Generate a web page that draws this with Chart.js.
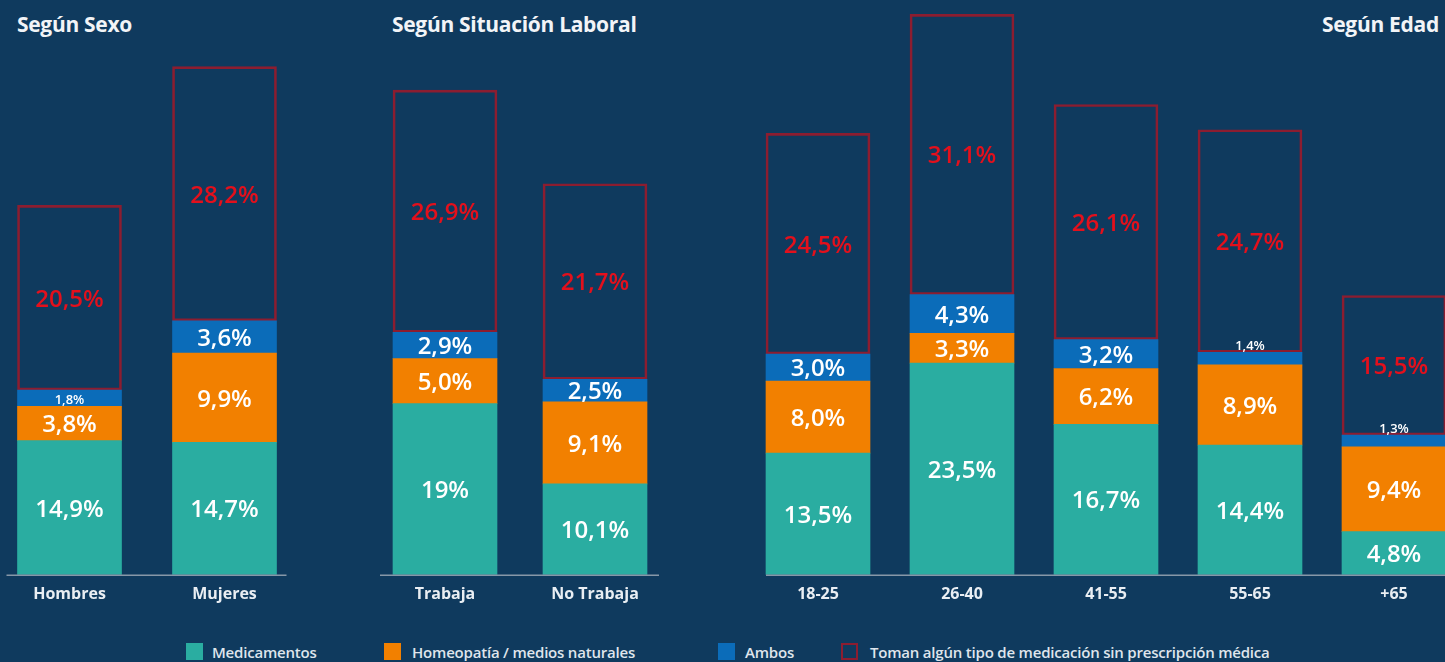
<!DOCTYPE html>
<html>
<head>
<meta charset="utf-8">
<script src="https://cdn.jsdelivr.net/npm/chart.js@4.4.0/dist/chart.umd.min.js"></script>
<style>
	html, body { margin: 0; padding: 0; }
	body { width: 1445px; height: 662px; background: #0f3a5e; position: relative; overflow: hidden; font-family: 'Open Sans', sans-serif; }
	.title { position: absolute; top: 10px; color: #f2f4f7; font-weight: 700; font-size: 21px; letter-spacing: -0.3px; }
	.panel { position: absolute; top: 0; }
	.legend { position: absolute; top: 643px; height: 19px; color: #dfe5ec; font-size: 15px; font-weight: 600; letter-spacing: -0.2px; }
	.legend span.box { position: absolute; left: 0; top: 0; width: 17px; height: 17px; box-sizing: border-box; }
	.legend span.txt { position: absolute; top: -1px; white-space: nowrap; }
</style>
</head>
<body>
<div class="title" style="left:17px">Según Sexo</div>
<div class="title" style="left:392px">Según Situación Laboral</div>
<div class="title" style="left:1322px">Según Edad</div>

<div class="panel" style="left:-8px"><canvas id="sexo" width="310" height="614"></canvas></div>
<div class="panel" style="left:370px"><canvas id="laboral" width="300" height="614"></canvas></div>
<div class="panel" style="left:746px"><canvas id="edad" width="720" height="614"></canvas></div>

<div class="legend" style="left:186px"><span class="box" style="background:#2aada1"></span><span class="txt" style="left:26px">Medicamentos</span></div>
<div class="legend" style="left:384px"><span class="box" style="background:#f28000"></span><span class="txt" style="left:28px">Homeopatía / medios naturales</span></div>
<div class="legend" style="left:718px"><span class="box" style="background:#0b6cb9"></span><span class="txt" style="left:27px">Ambos</span></div>
<div class="legend" style="left:841px"><span class="box" style="border:2px solid #8c1d30"></span><span class="txt" style="left:29px">Toman algún tipo de medicación sin prescripción médica</span></div>

<script>
// values as printed on the bars (strings keep "19" vs "8,0")
const sexoLabels = ['Hombres', 'Mujeres'];
const sexoMedicamentos = ['14.9', '14.7'];
const sexoHomeopatia = ['3.8', '9.9'];
const sexoAmbos = ['1.8', '3.6'];
const sexoSinReceta = ['20.5', '28.2'];

const laboralLabels = ['Trabaja', 'No Trabaja'];
const laboralMedicamentos = ['19', '10.1'];
const laboralHomeopatia = ['5.0', '9.1'];
const laboralAmbos = ['2.9', '2.5'];
const laboralSinReceta = ['26.9', '21.7'];

const edadLabels = ['18-25', '26-40', '41-55', '55-65', '+65'];
const edadMedicamentos = ['13.5', '23.5', '16.7', '14.4', '4.8'];
const edadHomeopatia = ['8.0', '3.3', '6.2', '8.9', '9.4'];
const edadAmbos = ['3.0', '4.3', '3.2', '1.4', '1.3'];
const edadSinReceta = ['24.5', '31.1', '26.1', '24.7', '15.5'];

Chart.defaults.font.family = "'Open Sans', sans-serif";

const fmt = v => String(v).replace('.', ',') + '%';

// writes the value inside each segment
const segmentLabels = {
	id: 'segmentLabels',
	afterDatasetsDraw(chart) {
		const ctx = chart.ctx;
		ctx.save();
		ctx.textAlign = 'center';
		ctx.textBaseline = 'middle';
		chart.data.datasets.forEach((ds, di) => {
			const meta = chart.getDatasetMeta(di);
			meta.data.forEach((bar, i) => {
				const raw = ds.data[i];
				const v = +raw;
				const top = Math.min(bar.y, bar.base);
				const mid = (bar.y + bar.base) / 2;
				let y = mid + 2;
				if (v < 2) {
					ctx.font = '600 13px "Open Sans"';
					if (v < 1.6) y = top - 6;
				} else {
					ctx.font = '600 24px "Open Sans"';
				}
				ctx.fillStyle = ds.labelColor;
				ctx.fillText(fmt(raw), bar.x, y);
			});
		});
		ctx.restore();
	}
};

// baseline under each group
const baseline = {
	id: 'baseline',
	afterDatasetsDraw(chart, args, opts) {
		const bars = chart.getDatasetMeta(0).data;
		const first = bars[0], last = bars[bars.length - 1];
		const x0 = first.x - first.width / 2 - opts.padLeft;
		const x1 = opts.toEdge ? chart.width : last.x + last.width / 2 + opts.padRight;
		const y = chart.chartArea.bottom + 0.5;
		const ctx = chart.ctx;
		ctx.save();
		ctx.strokeStyle = '#8797a8';
		ctx.lineWidth = 1.5;
		ctx.beginPath();
		ctx.moveTo(x0, y);
		ctx.lineTo(x1, y);
		ctx.stroke();
		ctx.restore();
	}
};

function makeChart(id, labels, med, hom, amb, sin, line) {
	return new Chart(document.getElementById(id).getContext('2d'), {
		type: 'bar',
		data: {
			labels: labels,
			datasets: [
				{ label: 'Medicamentos', data: med, backgroundColor: '#2aada1', labelColor: '#ffffff' },
				{ label: 'Homeopatía / medios naturales', data: hom, backgroundColor: '#f28000', labelColor: '#ffffff' },
				{ label: 'Ambos', data: amb, backgroundColor: '#0b6cb9', labelColor: '#ffffff' },
				{
					label: 'Toman algún tipo de medicación sin prescripción médica', data: sin,
					backgroundColor: 'rgba(0,0,0,0)', borderColor: '#8c1d30', borderWidth: 2,
					borderSkipped: false, labelColor: '#e3101c',
				},
			],
		},
		options: {
			responsive: false,
			animation: false,
			layout: { padding: 0 },
			barThickness: 104,
			plugins: {
				legend: { display: false },
				tooltip: { enabled: false },
				baseline: line,
			},
			scales: {
				x: {
					stacked: true,
					grid: { display: false, drawTicks: false },
					border: { display: false },
					ticks: { color: '#e9eef3', font: { size: 16, weight: '700' }, padding: 10 },
				},
				y: {
					stacked: true,
					display: false,
					min: 0,
					max: 63.8,
				},
			},
		},
		plugins: [segmentLabels, baseline],
	});
}

makeChart('sexo', sexoLabels, sexoMedicamentos, sexoHomeopatia, sexoAmbos, sexoSinReceta, { padLeft: 11, padRight: 10 });
makeChart('laboral', laboralLabels, laboralMedicamentos, laboralHomeopatia, laboralAmbos, laboralSinReceta, { padLeft: 13, padRight: 12 });
makeChart('edad', edadLabels, edadMedicamentos, edadHomeopatia, edadAmbos, edadSinReceta, { padLeft: 0, toEdge: true });
</script>
</body>
</html>
